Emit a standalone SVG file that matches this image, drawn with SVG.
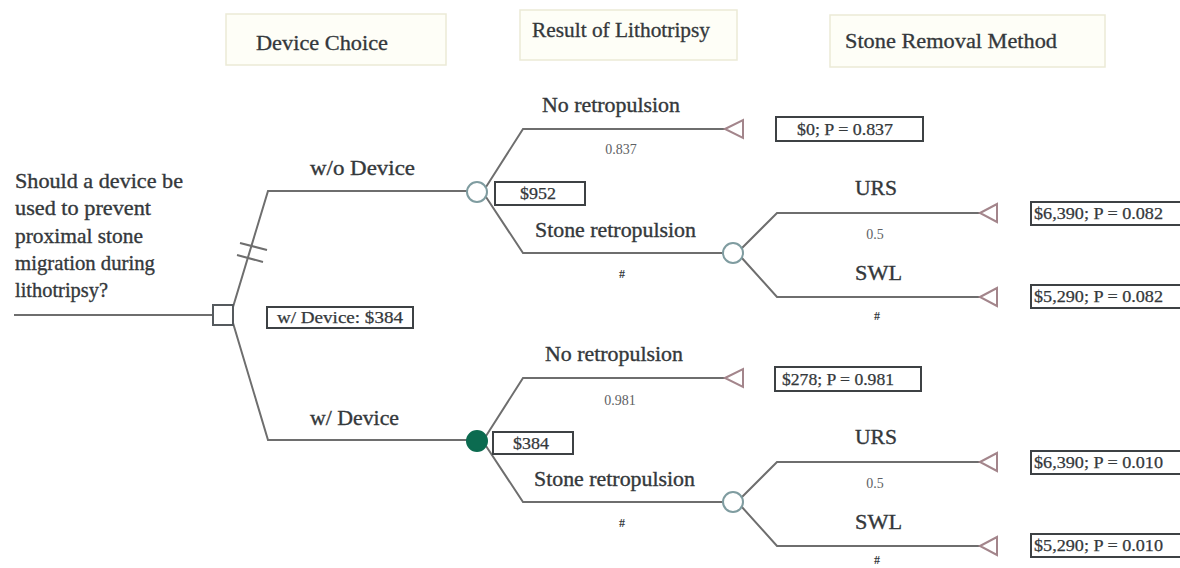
<svg xmlns="http://www.w3.org/2000/svg" width="1180" height="568" viewBox="0 0 1180 568">
<style>
.t{font-family:"Liberation Serif","Times New Roman","DejaVu Serif",serif;fill:#34383b}
.lbl{font-size:21px;stroke:#34383b;stroke-width:0.35}
.hdr{font-size:20px;stroke:#34383b;stroke-width:0.3}
.pay{font-size:16px;stroke:#34383b;stroke-width:0.25}
.prob{font-size:14px;fill:#5e6164}
.dot{font-size:12px;font-weight:bold;fill:#34383b}
.ln{stroke:#6e6e6e;stroke-width:2;fill:none}
.tri{fill:#fff;stroke:#a3858b;stroke-width:2}
.chance{fill:#fff;stroke:#7f9ca0;stroke-width:2}
.box{fill:#fff;stroke:#3d4144;stroke-width:2}
.hbox{fill:#fefef7;stroke:#ebead6;stroke-width:1.5}
</style>
<rect width="1180" height="568" fill="#fff"/>

<g id="headers">
<rect class="hbox" x="226" y="14" width="220" height="51"/>
<text class="t hdr" x="256" y="50" textLength="132" lengthAdjust="spacingAndGlyphs">Device Choice</text>
<rect class="hbox" x="520" y="10" width="217" height="50"/>
<text class="t hdr" x="532" y="37" textLength="178" lengthAdjust="spacingAndGlyphs">Result of Lithotripsy</text>
<rect class="hbox" x="830" y="15" width="275" height="52"/>
<text class="t hdr" x="845" y="48" textLength="212" lengthAdjust="spacingAndGlyphs">Stone Removal Method</text>
</g>

<g id="question">
<text class="t lbl" x="15" y="188" textLength="168" lengthAdjust="spacingAndGlyphs">Should a device be</text>
<text class="t lbl" x="15" y="215" textLength="136" lengthAdjust="spacingAndGlyphs">used to prevent</text>
<text class="t lbl" x="15" y="243" textLength="128" lengthAdjust="spacingAndGlyphs">proximal stone</text>
<text class="t lbl" x="15" y="270" textLength="140" lengthAdjust="spacingAndGlyphs">migration during</text>
<text class="t lbl" x="15" y="297" textLength="93" lengthAdjust="spacingAndGlyphs">lithotripsy?</text>
</g>

<g id="connectors">
<line class="ln" x1="14" y1="315" x2="213" y2="315"/>
<polyline class="ln" points="233,307 268,191 467,191"/>
<polyline class="ln" points="233,323 268,440 467,440"/>
<line class="ln" x1="240" y1="243" x2="267" y2="250"/>
<line class="ln" x1="237" y1="255" x2="263" y2="262"/>
<polyline class="ln" points="486,187 523,129 725,129"/>
<polyline class="ln" points="486,197 523,253 723,253"/>
<polyline class="ln" points="741,249 777,213 980,213"/>
<polyline class="ln" points="741,257 777,297 980,297"/>
<polyline class="ln" points="486,436 523,378 725,378"/>
<polyline class="ln" points="486,446 523,502 723,502"/>
<polyline class="ln" points="741,498 777,462 980,462"/>
<polyline class="ln" points="741,506 777,546 980,546"/>
</g>

<g id="decision">
<rect x="213" y="305" width="20" height="20" fill="#fff" stroke="#555a5e" stroke-width="2"/>
</g>

<g id="branch-labels">
<text class="t lbl" x="310" y="175" textLength="105" lengthAdjust="spacingAndGlyphs">w/o Device</text>
<text class="t lbl" x="310" y="425" textLength="89" lengthAdjust="spacingAndGlyphs">w/ Device</text>
</g>

<g id="box-wdevice">
<rect class="box" x="267" y="307" width="146" height="21"/>
<text class="t pay" x="277" y="323" textLength="126" lengthAdjust="spacingAndGlyphs">w/ Device: $384</text>
</g>

<g id="chance-wo">
<circle class="chance" cx="477" cy="192" r="10"/>
<rect class="box" x="495" y="182" width="90" height="23"/>
<text class="t pay" x="538" y="199" text-anchor="middle" textLength="36" lengthAdjust="spacingAndGlyphs">$952</text>
<text class="t lbl" x="542" y="112" textLength="138" lengthAdjust="spacingAndGlyphs">No retropulsion</text>
<text class="t prob" x="621" y="154" text-anchor="middle">0.837</text>
<text class="t lbl" x="535" y="237" textLength="161" lengthAdjust="spacingAndGlyphs">Stone retropulsion</text>
<text class="t dot" x="622" y="278" text-anchor="middle">#</text>
</g>

<g id="term-wo-none">
<polygon class="tri" points="725,129 743,120 743,138"/>
<rect class="box" x="776" y="117" width="147" height="24"/>
<text class="t pay" x="797" y="135" textLength="96" lengthAdjust="spacingAndGlyphs">$0; P = 0.837</text>
</g>

<g id="chance-wo-retro">
<circle class="chance" cx="733" cy="253" r="10"/>
<text class="t lbl" x="855" y="195" textLength="42" lengthAdjust="spacingAndGlyphs">URS</text>
<text class="t prob" x="875" y="239" text-anchor="middle">0.5</text>
<text class="t lbl" x="855" y="280" textLength="47" lengthAdjust="spacingAndGlyphs">SWL</text>
<text class="t dot" x="877" y="320" text-anchor="middle">#</text>
</g>

<g id="term-wo-urs">
<polygon class="tri" points="980,213 997,204 997,222"/>
<rect class="box" x="1031" y="202" width="160" height="23"/>
<text class="t pay" x="1034" y="219" textLength="129" lengthAdjust="spacingAndGlyphs">$6,390; P = 0.082</text>
</g>

<g id="term-wo-swl">
<polygon class="tri" points="980,297 997,288 997,306"/>
<rect class="box" x="1031" y="285" width="160" height="23"/>
<text class="t pay" x="1034" y="302" textLength="129" lengthAdjust="spacingAndGlyphs">$5,290; P = 0.082</text>
</g>

<g id="chance-w">
<circle cx="477" cy="441" r="10" fill="#0c6b50" stroke="#0c6b50" stroke-width="2"/>
<rect class="box" x="493" y="432" width="80" height="22"/>
<text class="t pay" x="531" y="449" text-anchor="middle" textLength="36" lengthAdjust="spacingAndGlyphs">$384</text>
<text class="t lbl" x="545" y="361" textLength="138" lengthAdjust="spacingAndGlyphs">No retropulsion</text>
<text class="t prob" x="620" y="405" text-anchor="middle">0.981</text>
<text class="t lbl" x="534" y="486" textLength="161" lengthAdjust="spacingAndGlyphs">Stone retropulsion</text>
<text class="t dot" x="622" y="527" text-anchor="middle">#</text>
</g>

<g id="term-w-none">
<polygon class="tri" points="725,378 743,369 743,387"/>
<rect class="box" x="775" y="367" width="146" height="24"/>
<text class="t pay" x="782" y="385" textLength="112" lengthAdjust="spacingAndGlyphs">$278; P = 0.981</text>
</g>

<g id="chance-w-retro">
<circle class="chance" cx="733" cy="502" r="10"/>
<text class="t lbl" x="855" y="444" textLength="42" lengthAdjust="spacingAndGlyphs">URS</text>
<text class="t prob" x="875" y="488" text-anchor="middle">0.5</text>
<text class="t lbl" x="855" y="529" textLength="47" lengthAdjust="spacingAndGlyphs">SWL</text>
<text class="t dot" x="877" y="564" text-anchor="middle" font-size="11">#</text>
</g>

<g id="term-w-urs">
<polygon class="tri" points="980,462 997,453 997,471"/>
<rect class="box" x="1031" y="451" width="160" height="23"/>
<text class="t pay" x="1034" y="468" textLength="129" lengthAdjust="spacingAndGlyphs">$6,390; P = 0.010</text>
</g>

<g id="term-w-swl">
<polygon class="tri" points="980,546 997,537 997,555"/>
<rect class="box" x="1031" y="534" width="160" height="23"/>
<text class="t pay" x="1034" y="551" textLength="129" lengthAdjust="spacingAndGlyphs">$5,290; P = 0.010</text>
</g>
</svg>
